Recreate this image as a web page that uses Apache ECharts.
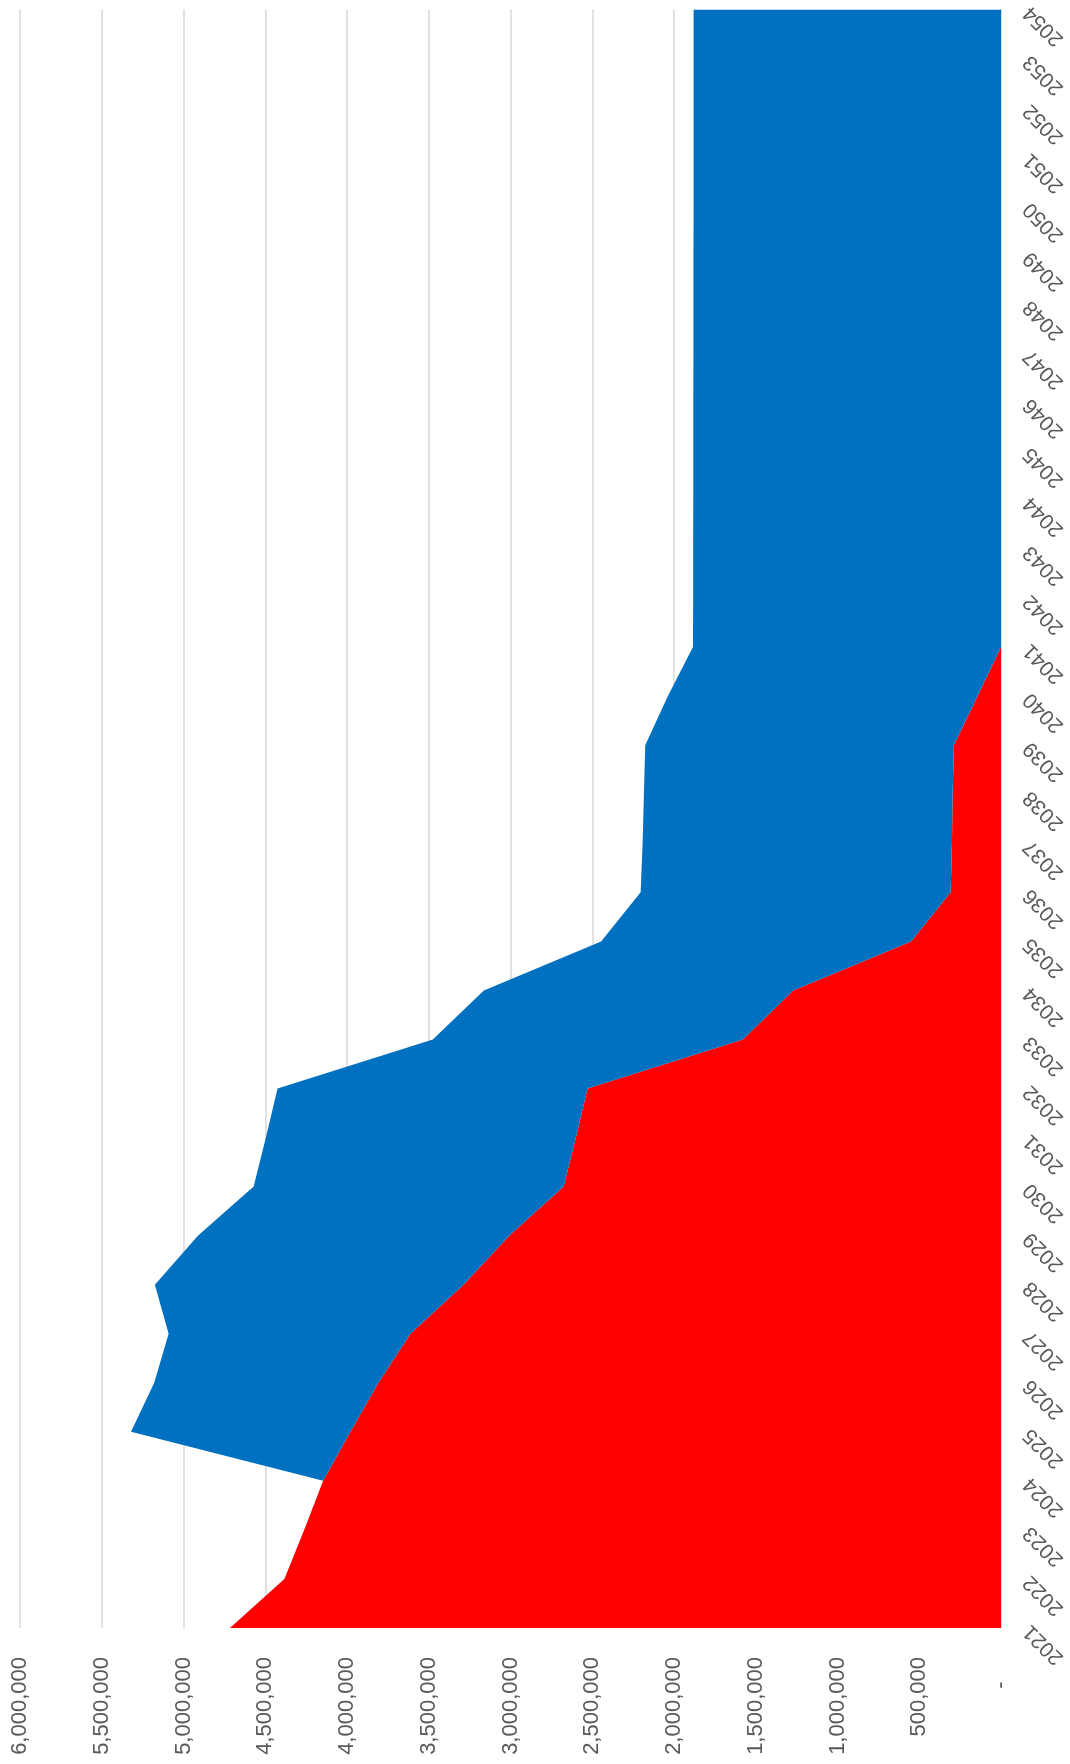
<!DOCTYPE html>
<html>
<head>
<meta charset="utf-8">
<script src="https://cdn.jsdelivr.net/npm/echarts@6/dist/echarts.min.js"></script>
<style>
  html, body { margin: 0; padding: 0; background: #fff; }
  #chart { width: 1070px; height: 1764px; }
</style>
</head>
<body>
<div id="chart"></div>
<script>
// years on the (right-hand) category axis, 2021 at the bottom
var years = [];
for (var y = 2021; y <= 2054; y++) years.push(String(y));

// red series (bottom of the stack)
var redValues = [
  4716000, 4383000, 4262000, 4146000, 3979000, 3808000, 3612000, 3287000,
  3008000, 2675000, 2600000, 2529000, 1579000, 1271000, 550000, 308000,
  300000, 296000, 288000, 144000, 0, 0, 0, 0,
  0, 0, 0, 0, 0, 0, 0, 0, 0, 0
];

// blue series (stacked on top of red)
var blueValues = [
  0, 0, 0, 0, 1342000, 1371000, 1479000, 1888000,
  1904000, 1896000, 1896000, 1896000, 1896000, 1892000, 1896000, 1896000,
  1892000, 1888000, 1888000, 1894000, 1884000, 1883000, 1883000, 1882000,
  1882000, 1882000, 1881000, 1881000, 1881000, 1880000, 1880000, 1880000, 1880000, 1880000
];

var valueTicks = { min: 0, max: 6000000, step: 500000 };

var myChart = echarts.init(document.getElementById('chart'));

var option = {
  animation: false,
  backgroundColor: '#ffffff',
  grid: { left: 20, right: 69, top: 7, bottom: 136, containLabel: false },
  xAxis: {
    type: 'value',
    inverse: true,
    position: 'bottom',
    min: valueTicks.min,
    max: valueTicks.max,
    interval: valueTicks.step,
    axisLine: { show: false },
    axisTick: { show: false },
    splitLine: { show: true, lineStyle: { color: '#D9D9D9', width: 1.5 } },
    axisLabel: {
      rotate: 90,
      margin: 29,
      color: '#595959',
      fontFamily: 'Liberation Sans',
      fontSize: 22,
      formatter: function (v) {
        return v === 0 ? '-    ' : v.toLocaleString('en-US');
      }
    }
  },
  yAxis: {
    type: 'category',
    position: 'right',
    boundaryGap: false,
    data: years,
    axisLine: { show: true, lineStyle: { color: '#D9D9D9', width: 1.5 } },
    axisTick: { show: false },
    splitLine: { show: false },
    axisLabel: {
      interval: 0,
      rotate: 135,
      align: 'right',
      verticalAlign: 'middle',
      margin: 26,
      color: '#595959',
      fontFamily: 'Liberation Sans',
      fontSize: 21
    }
  },
  series: [
    {
      name: 'red',
      type: 'line',
      stack: 'total',
      data: redValues,
      symbol: 'none',
      lineStyle: { width: 0 },
      areaStyle: { color: '#FF0000', opacity: 1 },
      itemStyle: { color: '#FF0000' },
      z: 2
    },
    {
      name: 'blue',
      type: 'line',
      stack: 'total',
      data: blueValues,
      symbol: 'none',
      lineStyle: { width: 0 },
      areaStyle: { color: '#0070C0', opacity: 1 },
      itemStyle: { color: '#0070C0' },
      z: 2
    }
  ]
};

myChart.setOption(option);
window.addEventListener('resize', function () {
  myChart.resize();
});
</script>
</body>
</html>
